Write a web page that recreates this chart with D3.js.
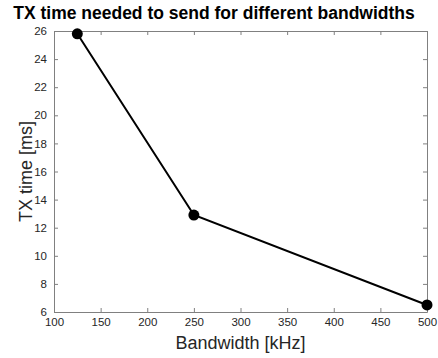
<!DOCTYPE html>
<html>
<head>
<meta charset="utf-8">
<script src="https://cdn.jsdelivr.net/npm/d3@7"></script>
<style>
  body { margin: 0; background: #fff; }
  svg { display: block; font-family: "Liberation Sans", Arial, sans-serif; }
</style>
</head>
<body>
<div id="chart"></div>
<script>
// data
const bandwidths = [125, 250, 500];
const txTimes = [25.8, 12.9, 6.5];
const xTicks = [100, 150, 200, 250, 300, 350, 400, 450, 500];
const yTicks = [6, 8, 10, 12, 14, 16, 18, 20, 22, 24, 26];

const width = 438, height = 358;
const margin = {top: 31, right: 11, bottom: 46, left: 54};
const data = bandwidths.map((b, i) => ({x: b, y: txTimes[i]}));

const x = d3.scaleLinear().domain([100, 500]).range([margin.left, width - margin.right]);
const y = d3.scaleLinear().domain([6, 26]).range([height - margin.bottom, margin.top]);

const svg = d3.select("#chart").append("svg")
  .attr("width", width).attr("height", height);

const axisColor = "#808080";
const tick = 4;
const style = g => {
  g.select(".domain").attr("stroke", axisColor);
  g.selectAll(".tick line").attr("stroke", axisColor);
  g.selectAll(".tick text").attr("fill", "#262626").attr("font-size", 11.5);
};

// bottom
svg.append("g")
  .attr("transform", `translate(0,${y(6)})`)
  .call(d3.axisBottom(x).tickValues(xTicks).tickSize(-tick).tickSizeOuter(0).tickPadding(6))
  .call(style);
// top mirror
svg.append("g")
  .attr("transform", `translate(0,${y(26)})`)
  .call(d3.axisTop(x).tickValues(xTicks).tickSize(-tick).tickSizeOuter(0).tickFormat(""))
  .call(style);
// left
svg.append("g")
  .attr("transform", `translate(${x(100)},0)`)
  .call(d3.axisLeft(y).tickValues(yTicks).tickSize(-tick).tickSizeOuter(0).tickPadding(7))
  .call(style);
// right mirror
svg.append("g")
  .attr("transform", `translate(${x(500)},0)`)
  .call(d3.axisRight(y).tickValues(yTicks).tickSize(-tick).tickSizeOuter(0).tickFormat(""))
  .call(style);

const line = d3.line().x(d => x(d.x)).y(d => y(d.y));
svg.append("path")
  .datum(data)
  .attr("fill", "none")
  .attr("stroke", "#000")
  .attr("stroke-width", 2)
  .attr("d", line);

svg.append("g").selectAll("circle")
  .data(data)
  .join("circle")
  .attr("cx", d => x(d.x))
  .attr("cy", d => y(d.y))
  .attr("r", 5.5)
  .attr("fill", "#000");

svg.append("text")
  .attr("x", 214).attr("y", 19)
  .attr("text-anchor", "middle")
  .attr("font-size", 17.5).attr("font-weight", "bold")
  .text("TX time needed to send for different bandwidths");

svg.append("text")
  .attr("x", (x(100) + x(500)) / 2).attr("y", 349)
  .attr("text-anchor", "middle")
  .attr("font-size", 18).attr("fill", "#262626")
  .text("Bandwidth [kHz]");

svg.append("text")
  .attr("transform", `translate(32,${(y(6) + y(26)) / 2}) rotate(-90)`)
  .attr("text-anchor", "middle")
  .attr("font-size", 18).attr("fill", "#262626")
  .text("TX time [ms]");
</script>
</body>
</html>
